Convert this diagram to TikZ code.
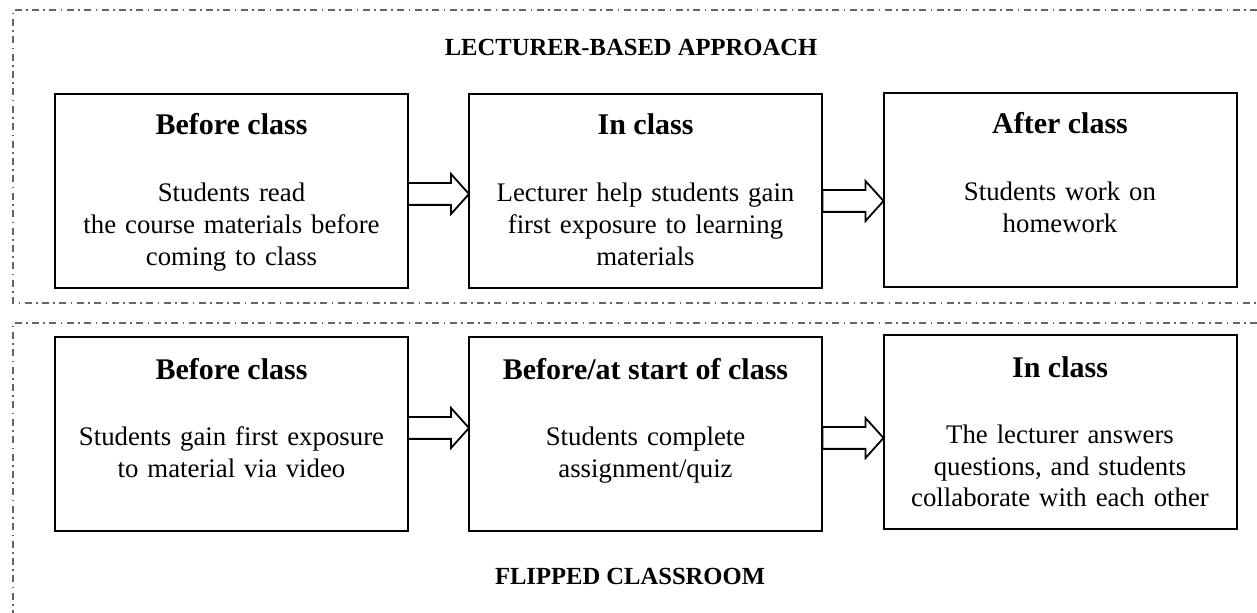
\documentclass[tikz,border=0pt]{standalone}
\usepackage{fontspec}
\setmainfont{Liberation Serif}
\usetikzlibrary{positioning,shapes.arrows,calc}

\tikzset{
  stage/.style={draw, line width=1pt, minimum width=176.5pt, minimum height=97pt, inner sep=0pt, outer sep=0pt},
  stagetitle/.style={anchor=base, inner sep=0pt, font=\fontsize{15}{18}\selectfont\bfseries},
  stagetext/.style={anchor=base, inner sep=0pt, align=center, text width=172pt, font=\fontsize{13.4}{15.8}\selectfont},
  flow/.style={draw, single arrow, line width=0.9pt, minimum height=30.5pt, inner xsep=0pt, inner ysep=5pt,
    single arrow head extend=4.5pt, single arrow tip angle=96, outer sep=0pt, anchor=tip},
  heading/.style={inner sep=0pt, font=\fontsize{12.3}{14}\selectfont\bfseries},
  frame/.style={black!60, line width=0.8pt, dash pattern=on 3.5pt off 2.2pt on 0.8pt off 2.2pt}
}

\begin{document}
\begin{tikzpicture}[x=0.5pt, y=-0.5pt]
    \useasboundingbox (0,0) rectangle (1257,613);

    % dash-dot frames
    \draw[frame] (1257,10) -- (13,10) -- (13,303) -- (1257,303);
    \draw[frame] (1257,323) -- (13,323) -- (13,613);

    % headings
    \node[heading] (lechead) at (631,47) {LECTURER-BASED APPROACH};
    \node[heading] (fliphead) at (630,576) {FLIPPED CLASSROOM};

    % lecturer-based approach
    \node[stage] (L1) at (231.5,191) {};  % before class
    \node[stage] (L2) at (645.5,191) {};  % in class
    \node[stage] (L3) at (1060,190) {};   % after class

    \node[stagetitle] (L1h) at ([yshift=-20.5pt]L1.north) {Before class};
    \node[stagetitle] (L2h) at ([yshift=-20.5pt]L2.north) {In class};
    \node[stagetitle] (L3h) at ([yshift=-20.5pt]L3.north) {After class};

    \node[stagetext] (L1t) at ([yshift=-54pt]L1.north) {Students read\\the course materials before\\coming to class};
    \node[stagetext] (L2t) at ([yshift=-54pt]L2.north) {Lecturer help students gain\\first exposure to learning\\materials};
    \node[stagetext] (L3t) at ([yshift=-54pt]L3.north) {Students work on\\homework};

    \node[flow] (La) at ([yshift=-1.5pt]L2.west) {};
    \node[flow] (Lb) at ([yshift=-5.5pt]L3.west) {};

    % flipped classroom
    \node[stage] (F1) at (231.5,434.5) {};  % before class
    \node[stage] (F2) at (645.5,434.5) {};  % before/at start of class
    \node[stage] (F3) at (1060,432.5) {};   % in class

    \node[stagetitle] (F1h) at ([yshift=-21pt]F1.north) {Before class};
    \node[stagetitle] (F2h) at ([yshift=-21pt]F2.north) {Before/at start of class};
    \node[stagetitle] (F3h) at ([yshift=-21pt]F3.north) {In class};

    \node[stagetext] (F1t) at ([yshift=-54pt]F1.north) {Students gain first exposure\\to material via video};
    \node[stagetext] (F2t) at ([yshift=-54pt]F2.north) {Students complete\\assignment/quiz};
    \node[stagetext] (F3t) at ([yshift=-54pt]F3.north) {The lecturer answers\\questions, and students\\collaborate with each other};

    \node[flow] (Fa) at ([yshift=3.25pt]F2.west) {};
    \node[flow] (Fb) at ([yshift=-2.75pt]F3.west) {};
\end{tikzpicture}
\end{document}
